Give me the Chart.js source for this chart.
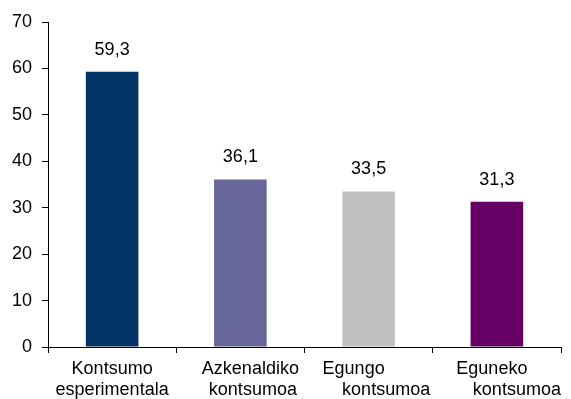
<!DOCTYPE html>
<html>
<head>
<meta charset="utf-8">
<script src="https://cdn.jsdelivr.net/npm/chart.js@4"></script>
<style>
  html, body { margin: 0; padding: 0; background: #fff; }
  #wrap { width: 571px; height: 399px; }
</style>
</head>
<body>
<div id="wrap"><canvas id="chart" width="571" height="399"></canvas></div>
<script>
// categories (two lines each, spaces mimic the original label offsets)
const categories = [
  ["Kontsumo", "esperimentala"],
  ["    Azkenaldiko", "     kontsumoa"],
  ["Egungo      ", "       kontsumoa"],
  ["Eguneko  ", "        kontsumoa"]
];
const values = [59.3, 36.1, 33.5, 31.3];
const barColors = ["#003366", "#666699", "#C0C0C0", "#660066"];
const yTicks = [0, 10, 20, 30, 40, 50, 60, 70];

const FONT = "'Liberation Sans', Arial, sans-serif";

// draws the value above every bar
const valueLabels = {
  id: "valueLabels",
  afterDatasetsDraw(chart) {
    const ctx = chart.ctx;
    const meta = chart.getDatasetMeta(0);
    ctx.save();
    ctx.font = "18px " + FONT;
    ctx.fillStyle = "#000";
    ctx.textAlign = "center";
    ctx.textBaseline = "bottom";
    meta.data.forEach((bar, i) => {
      const txt = values[i].toFixed(1).replace(".", ",");
      ctx.fillText(txt, bar.x, bar.y - 13);
    });
    ctx.restore();
  }
};

new Chart(document.getElementById("chart").getContext("2d"), {
  type: "bar",
  data: {
    labels: categories,
    datasets: [{
      data: values,
      backgroundColor: barColors,
      borderWidth: 0,
      barPercentage: 0.41,
      categoryPercentage: 1
    }]
  },
  options: {
    responsive: false,
    animation: false,
    layout: { padding: { top: 22, right: 10, left: 0, bottom: 0 } },
    plugins: { legend: { display: false }, tooltip: { enabled: false } },
    scales: {
      x: {
        grid: { offset: true, drawOnChartArea: false, tickLength: 6, color: "#000" },
        border: { color: "#000", width: 1 },
        ticks: { color: "#000", font: { family: FONT, size: 18, lineHeight: 1.15 }, padding: 6, maxRotation: 0, autoSkip: false },
        afterFit(scale) { scale.height = 52; }
      },
      y: {
        min: 0,
        max: 70,
        afterBuildTicks(scale) { scale.ticks = yTicks.map(v => ({ value: v })); },
        grid: { drawOnChartArea: false, tickLength: 6, color: "#000" },
        border: { color: "#000", width: 1 },
        ticks: { color: "#000", font: { family: FONT, size: 18 }, padding: 10 },
        afterFit(scale) { scale.width = 48; }
      }
    }
  },
  plugins: [valueLabels]
});
</script>
</body>
</html>
